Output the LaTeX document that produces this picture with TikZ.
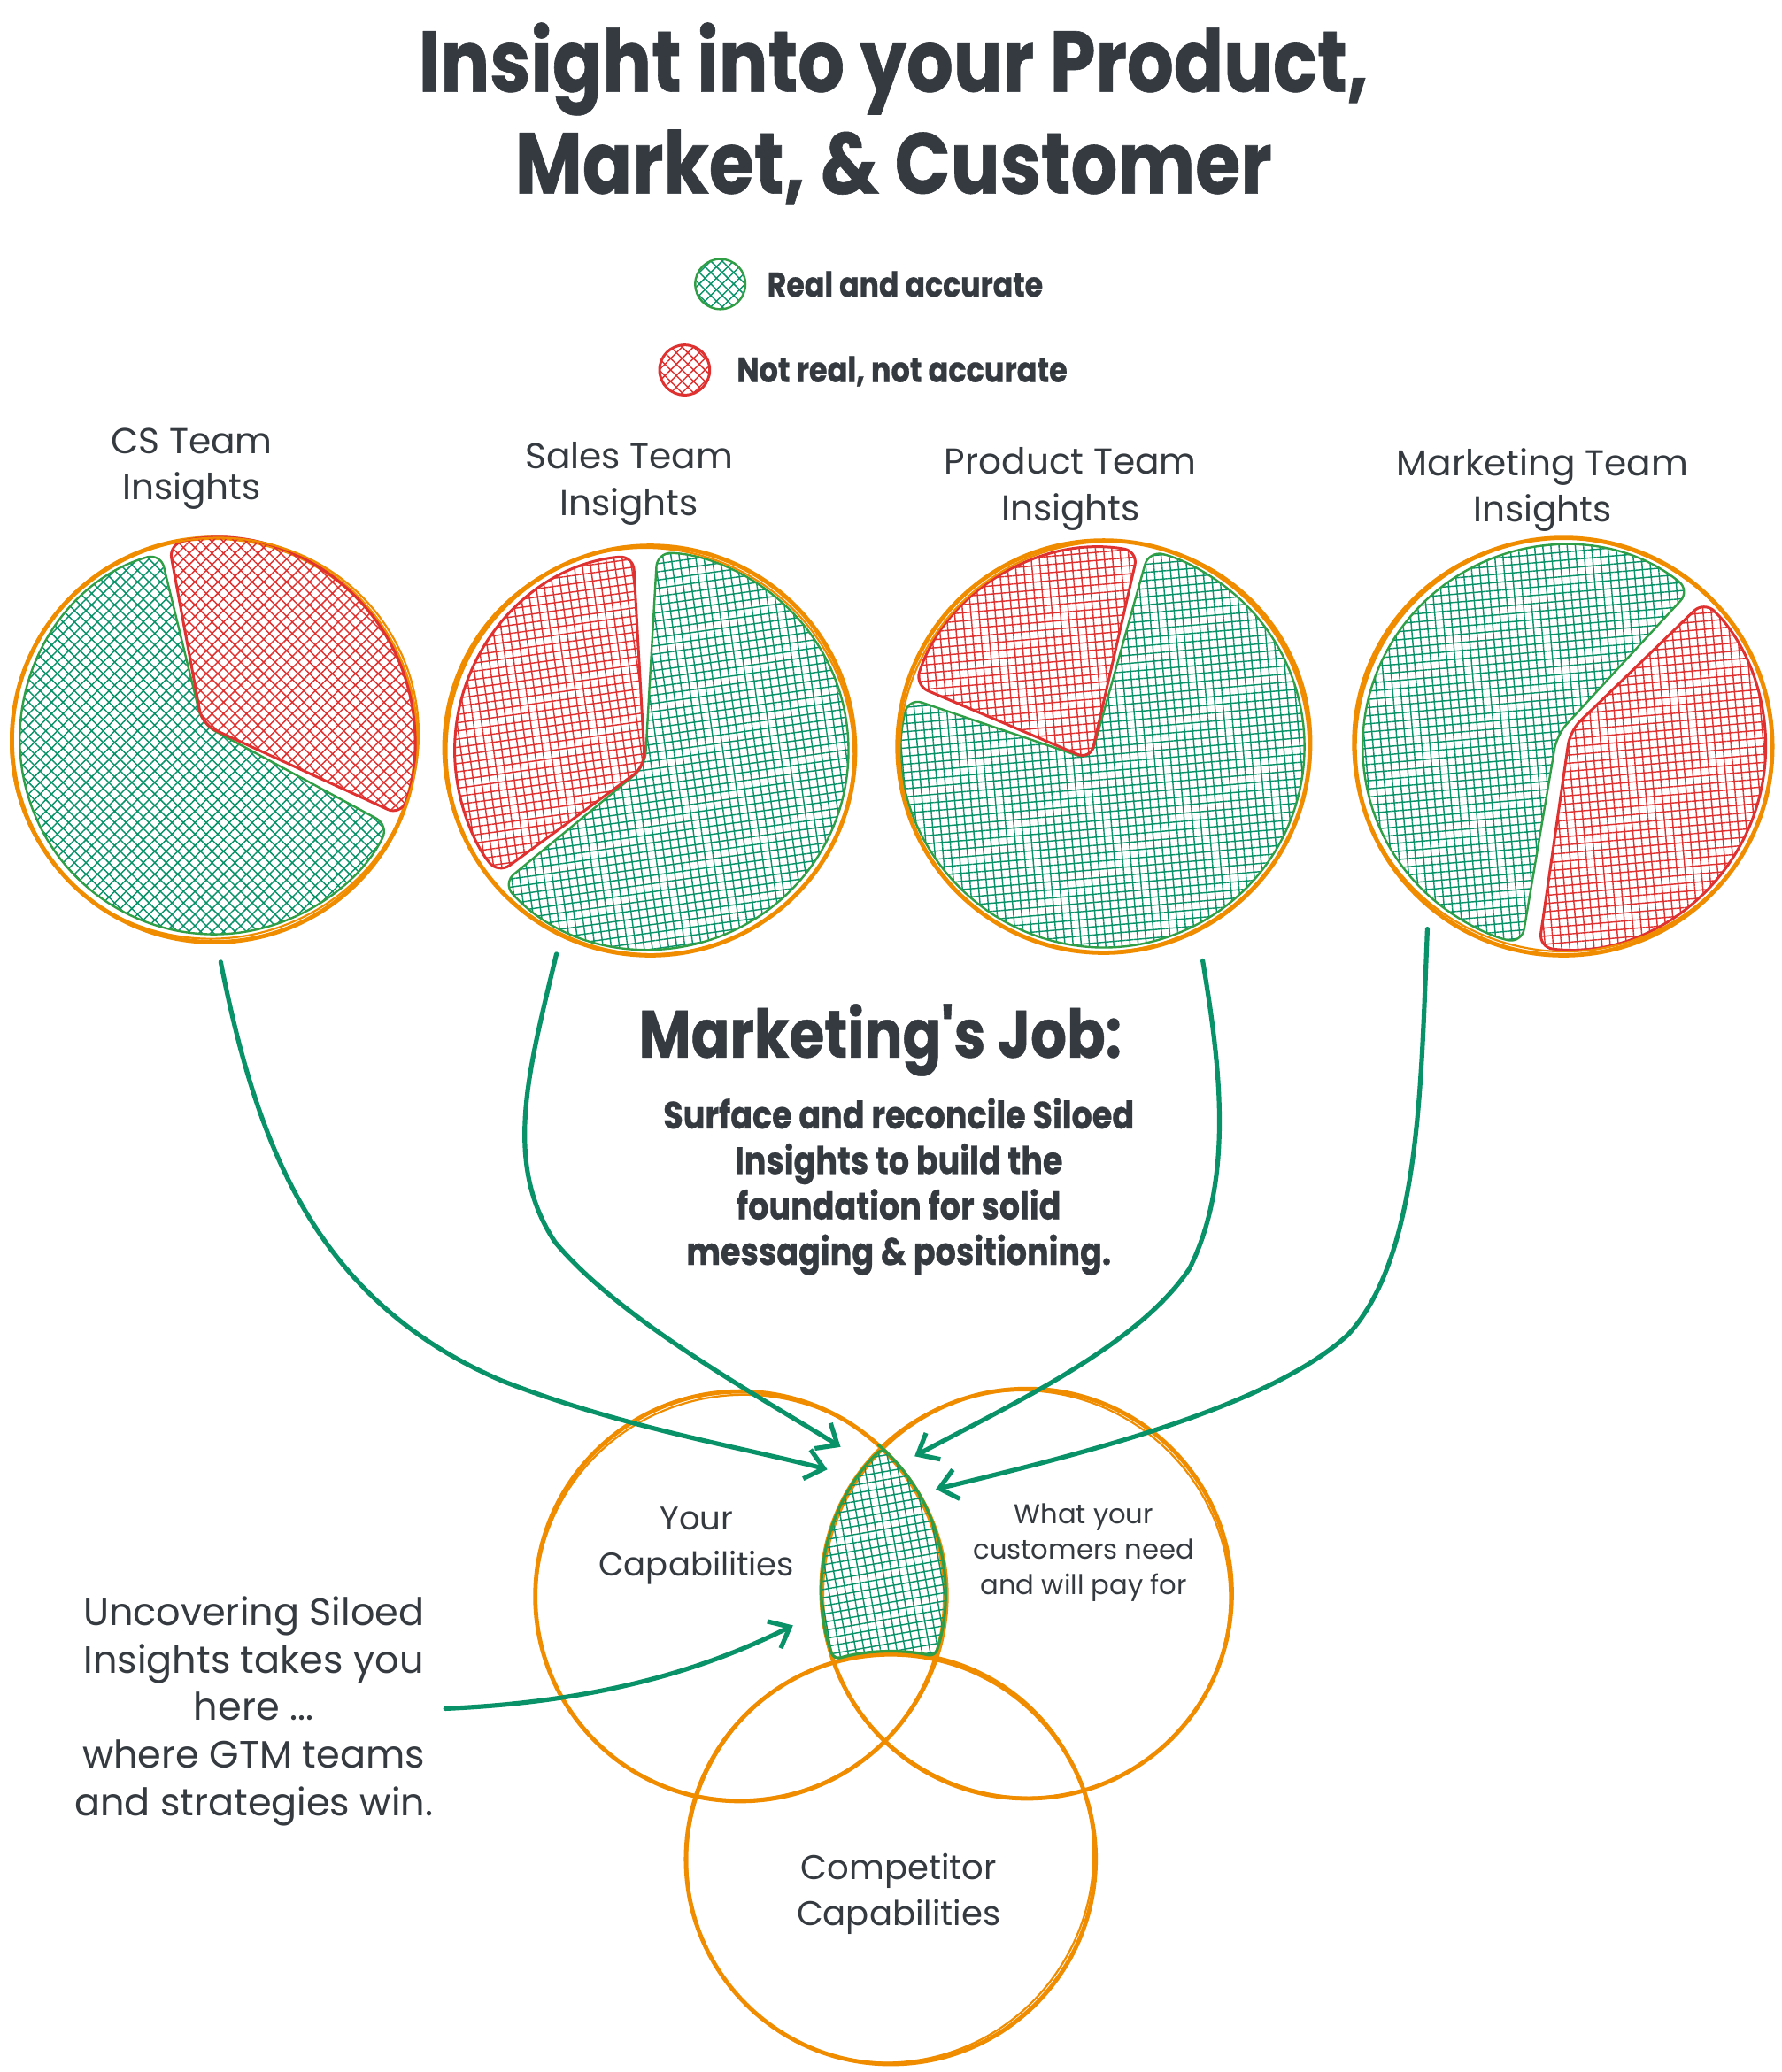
\documentclass[tikz,border=0pt]{standalone}
\usepackage{fontspec}
\setmainfont{Poppins}
\newfontfamily\handfont{Poppins}
\newfontfamily\headfont{Poppins}[FakeStretch=0.85,FakeBold=0.6]
\usetikzlibrary{patterns.meta,arrows.meta,calc}
\definecolor{ink}{HTML}{343A40}
\definecolor{orangec}{HTML}{F08C00}
\definecolor{hatchg}{HTML}{099268}
\definecolor{lineg}{HTML}{2F9E44}
\definecolor{redc}{HTML}{E03131}
\tikzset{
  ring/.style={draw=orangec, line width=1.2pt},
  ringthin/.style={draw=orangec, line width=0.55pt},
  gwedge/.style={draw=lineg, line width=0.6pt, rounded corners=4pt,
    pattern={Hatch[angle=#1,distance=2.3pt,line width=0.36pt]}, pattern color=hatchg},
  gwedge/.default=45,
  rwedge/.style={draw=redc, line width=0.75pt, rounded corners=4pt,
    pattern={Hatch[angle=#1,distance=2.3pt,line width=0.36pt]}, pattern color=redc},
  rwedge/.default=45,
  arrowline/.style={draw=hatchg, line width=1.3pt, -{Straight Barb[length=5pt,width=8.5pt]}},
  handtext/.style={text=ink, align=center, inner sep=0pt, font=\handfont\fontsize{#1}{13.1}\selectfont},
  handtext/.default=10.5,
  headtext/.style={text=ink, align=center, inner sep=0pt},
}
\begin{document}
\begin{tikzpicture}[x=0.375pt, y=-0.375pt, line cap=round, line join=round]
\useasboundingbox (0,0) rectangle (1348,1568);
\fill[white] (0,0) rectangle (1348,1568);

% Title
\node[headtext, font=\headfont\bfseries\fontsize{24.5}{28.9}\selectfont] (title) at (676,86)
  {Insight into your Product,\\Market, \& Customer};

% Legend
\draw[gwedge=45] (545,215) circle[radius=19];
\node[headtext, anchor=west, font=\headfont\bfseries\fontsize{9.8}{12}\selectfont] (leg1) at (580,215) {Real and accurate};
\draw[rwedge=45] (518,280) circle[radius=19];
\node[headtext, anchor=west, font=\headfont\bfseries\fontsize{9.9}{12}\selectfont] (leg2) at (557,281) {Not real, not accurate};

% Pie labels
\node[handtext=10.2] (lab1) at (145,355) {CS Team\\Insights};
\node[handtext=10.2] (lab2) at (476,366) {Sales Team\\Insights};
\node[handtext=10.2] (lab3) at (810,370) {Product Team\\Insights};
\node[handtext=10.2] (lab4) at (1167,371) {Marketing Team\\Insights};

% Pie 1
\draw[ring] (162,560) circle[radius=153];
\draw[gwedge=45] (153,548) -- ($(162,560)+(-106:147)$) arc[start angle=-106, end angle=-334, radius=147] -- cycle;
\draw[rwedge=45] (153,548) -- ($(162,560)+(-103:152)$) arc[start angle=-103, end angle=22, radius=152] -- cycle;
\draw[ringthin, rotate around={25:(162,560)}] (163,559) ellipse[x radius=155, y radius=151];

% Pie 2
\draw[ring] (492,568) circle[radius=155];
\draw[gwedge=8] (488,580) -- ($(492,568)+(-222:150)$) arc[start angle=-222, end angle=-448, radius=150] -- cycle;
\draw[rwedge=8] (488,580) -- ($(492,568)+(-95:148)$) arc[start angle=-95, end angle=-219, radius=148] -- cycle;
\draw[ringthin, rotate around={-30:(492,568)}] (491,569) ellipse[x radius=156, y radius=153];

% Pie 3
\draw[ring] (835,565) circle[radius=156];
\draw[gwedge=5] (825,575) -- ($(835,565)+(-166:152)$) arc[start angle=-166, end angle=-437, radius=152] -- cycle;
\draw[rwedge=5] (825,575) -- ($(835,565)+(-80:150)$) arc[start angle=-80, end angle=-162, radius=150] -- cycle;
\draw[ringthin, rotate around={40:(835,565)}] (836,566) ellipse[x radius=157, y radius=154];

% Pie 4
\draw[ring] (1183,565) circle[radius=158];
\draw[gwedge=5] (1178,556) -- ($(1183,565)+(-51:152)$) arc[start angle=-51, end angle=-258, radius=152] -- cycle;
\draw[rwedge=5] (1188,553) -- ($(1183,565)+(-263:153)$) arc[start angle=-263, end angle=-406, radius=153] -- cycle;
\draw[ringthin, rotate around={-20:(1183,565)}] (1182,564) ellipse[x radius=159, y radius=156];

% Middle texts
\node[headtext, font=\headfont\bfseries\fontsize{19}{22}\selectfont] (job) at (666,787) {Marketing's Job:};
\node[headtext, font=\headfont\bfseries\fontsize{10.8}{12.9}\selectfont] (para) at (680,898)
  {Surface and reconcile Siloed\\Insights to build the\\foundation for solid\\messaging \& positioning.};

% Venn circles
\draw[ring] (560,1208) circle[radius=155];
\draw[ringthin, rotate around={15:(560,1208)}] (561,1209) ellipse[x radius=156, y radius=153];
\draw[ring] (777,1206) circle[radius=155];
\draw[ringthin, rotate around={-35:(777,1206)}] (776,1207) ellipse[x radius=156, y radius=153];
\draw[ring] (674,1407) circle[radius=155];
\draw[ringthin, rotate around={60:(674,1407)}] (675,1406) ellipse[x radius=156, y radius=153];

% Intersection region
\coordinate (vt) at (668.5,1096.8);
\draw[gwedge=10, line width=0.8pt, rounded corners=2pt] (vt)
  arc[start angle=-45.8, end angle=17.9, radius=153]
  arc[start angle=-77.5, end angle=-106.1, radius=155]
  arc[start angle=-199.6, end angle=-134.7, radius=153] -- cycle;

% Venn texts
\node[handtext=9.3] (yc) at (527,1170) {Your\\Capabilities};
\node[handtext, font=\handfont\fontsize{7.7}{10.1}\selectfont] (wy) at (820,1175) {What your\\customers need\\and will pay for};
\node[handtext=9.7] (cc) at (680,1433) {Competitor\\Capabilities};
\node[handtext, font=\handfont\fontsize{10.8}{13.5}\selectfont] (unc) at (192,1295)
  {Uncovering Siloed\\Insights takes you\\here ...\\where GTM teams\\and strategies win.};

% Arrows
\coordinate (s1) at (167,728);
\coordinate (e1) at (626,1112);
\coordinate (s2) at (421,722);
\coordinate (e2) at (636,1095);
\coordinate (s3) at (910,727);
\coordinate (e3) at (692,1102);
\coordinate (s4) at (1080,703);
\coordinate (e4) at (708,1127);
\coordinate (s5) at (337,1293);
\coordinate (e5) at (600,1230);
\draw[arrowline] (s1) .. controls (195,870) and (240,985) .. (380,1045) .. controls (470,1080) and (560,1095) .. (e1);
\draw[arrowline] (s2) .. controls (400,810) and (380,880) .. (420,940) .. controls (470,1000) and (580,1060) .. (e2);
\draw[arrowline] (s3) .. controls (922,800) and (935,890) .. (900,960) .. controls (860,1020) and (760,1065) .. (e3);
\draw[arrowline] (s4) .. controls (1075,820) and (1075,950) .. (1020,1010) .. controls (960,1065) and (820,1100) .. (e4);
\draw[arrowline] (s5) .. controls (450,1288) and (530,1265) .. (e5);
\end{tikzpicture}
\end{document}
